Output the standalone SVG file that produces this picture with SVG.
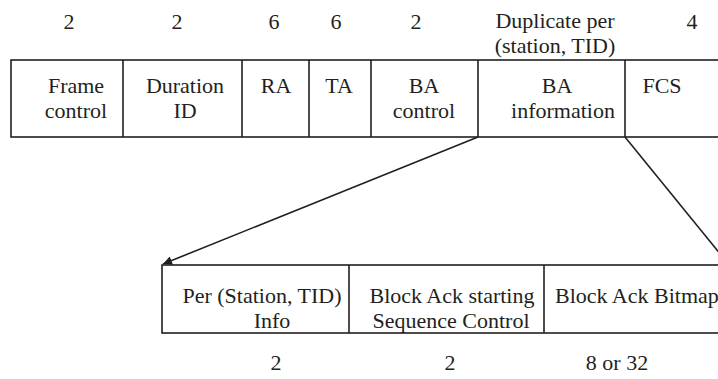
<svg xmlns="http://www.w3.org/2000/svg" width="718" height="379" viewBox="0 0 718 379">
<defs>
<style>
text{font-family:'Liberation Serif','Times New Roman',serif;font-size:22px;fill:#231f20;text-anchor:middle}
.b{fill:none;stroke:#231f20;stroke-width:1.6}
</style>
<marker id="ah" viewBox="0 0 10 10" refX="10" refY="5" markerWidth="10" markerHeight="9" orient="auto" markerUnits="userSpaceOnUse">
<path d="M0,0 L10,5 L0,10 z" fill="#231f20"/>
</marker>
</defs>
<rect width="718" height="379" fill="#fff"/>
<g id="sizes-top">
<text x="69" y="29">2</text>
<text x="177" y="29">2</text>
<text x="274" y="29">6</text>
<text x="336" y="29">6</text>
<text x="416" y="29">2</text>
<text x="555" y="28">Duplicate per</text>
<text x="555" y="53">(station, TID)</text>
<text x="692" y="29">4</text>
</g>
<g id="frame">
<rect class="b" x="11" y="60" width="720" height="77"/>
<line class="b" x1="123" y1="60" x2="123" y2="137"/>
<line class="b" x1="242" y1="60" x2="242" y2="137"/>
<line class="b" x1="309" y1="60" x2="309" y2="137"/>
<line class="b" x1="371" y1="60" x2="371" y2="137"/>
<line class="b" x1="478" y1="60" x2="478" y2="137"/>
<line class="b" x1="625" y1="60" x2="625" y2="137"/>
</g>
<g id="frame-control"><text x="76" y="93">Frame</text><text x="76" y="118">control</text></g>
<g id="duration-id"><text x="185" y="93">Duration</text><text x="185" y="118">ID</text></g>
<g id="ra"><text x="276" y="93">RA</text></g>
<g id="ta"><text x="339" y="93">TA</text></g>
<g id="ba-control"><text x="424" y="93">BA</text><text x="424" y="118">control</text></g>
<g id="ba-information"><text x="557" y="93">BA</text><text x="563" y="118">information</text></g>
<g id="fcs"><text x="662" y="93">FCS</text></g>
<g id="connectors">
<line class="b" x1="478" y1="137" x2="163" y2="264" marker-end="url(#ah)"/>
<line class="b" x1="625" y1="137" x2="730" y2="266" marker-end="url(#ah)"/>
</g>
<g id="ba-info-detail">
<rect class="b" x="162" y="265" width="570" height="68"/>
<line class="b" x1="349" y1="265" x2="349" y2="333"/>
<line class="b" x1="544" y1="265" x2="544" y2="333"/>
</g>
<g id="per-station-tid"><text x="262" y="303">Per (Station, TID)</text><text x="272" y="328">Info</text></g>
<g id="ssc"><text x="452" y="303">Block Ack starting</text><text x="451" y="328">Sequence Control</text></g>
<g id="bitmap"><text x="555" y="303" style="text-anchor:start">Block Ack Bitmap</text></g>
<g id="sizes-bottom">
<text x="276" y="370">2</text>
<text x="450" y="370">2</text>
<text x="617" y="370">8 or 32</text>
</g>
</svg>
